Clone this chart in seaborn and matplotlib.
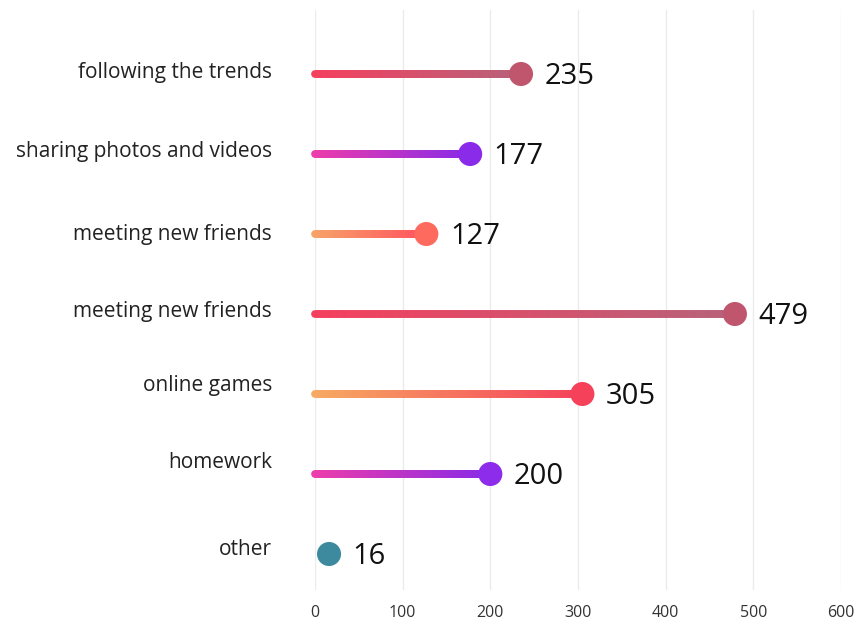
import numpy as np
import pandas as pd
import matplotlib
matplotlib.use("Agg")
import matplotlib.pyplot as plt
import matplotlib.transforms as mtransforms
from matplotlib.collections import LineCollection
from matplotlib.colors import to_rgb
import seaborn as sns

# Data
categories = ["following the trends", "sharing photos and videos", "meeting new friends",
              "meeting new friends", "online games", "homework", "other"]
values = [235, 177, 127, 479, 305, 200, 16]
x_ticks = [0, 100, 200, 300, 400, 500, 600]

# Gradient start / end colours and dot colour per row
line_start = ["#F5405E", "#EE3DAA", "#F7A468", "#F5405E", "#F7AA62", "#EE3DAA", "#3D8A9E"]
line_end = ["#B8607A", "#8A2BE6", "#FF5560", "#B8617A", "#F5425C", "#8A2BE6", "#3D8A9E"]
dot_colors = ["#C0566E", "#8B2BEA", "#FF6A5E", "#C0566E", "#F5425A", "#8D2CEA", "#3D8A9E"]

df = pd.DataFrame({"category": categories, "value": values,
                   "row": np.arange(len(categories)), "dot": dot_colors})

sns.set_style("white")
plt.rcParams["font.family"] = ["Open Sans", "DejaVu Sans"]

fig = plt.figure(figsize=(8.59, 6.23), dpi=100)
ax = fig.add_axes([315 / 859, 1 - 590 / 623, (841 - 315) / 859, 580 / 623])

# Gradient stems
n_seg = 120
for i, row in df.iterrows():
    if row["value"] < 30:
        continue
    xs = np.linspace(0, row["value"], n_seg + 1)
    pts = np.column_stack([xs, np.full_like(xs, row["row"], dtype=float)])
    segs = np.stack([pts[:-1], pts[1:]], axis=1)
    c0 = np.array(to_rgb(line_start[i]))
    c1 = np.array(to_rgb(line_end[i]))
    t = np.linspace(0, 1, n_seg)[:, None]
    cols = c0 * (1 - t) + c1 * t
    lc = LineCollection(segs, colors=cols, linewidths=5.6, capstyle="round",
                        clip_on=False, zorder=2)
    ax.add_collection(lc)

# Dots
sns.scatterplot(data=df, x="value", y="row", hue="category", palette=None, ax=ax,
                legend=False, s=300, linewidth=0, zorder=3, clip_on=False)
ax.collections[-1].set_facecolors(df["dot"].tolist())

# Value labels
for _, row in df.iterrows():
    ax.annotate(f"{row['value']}", xy=(row["value"], row["row"]), xytext=(17, -2),
                textcoords="offset points", ha="left", va="center",
                fontsize=21, color="#111111", zorder=4)

ax.set_xlim(0, 600)
ax.set_ylim(6.45, -0.8)
ax.set_xticks(x_ticks)
ax.set_xticklabels([str(v) for v in x_ticks], fontsize=11.5, color="#333333")
ax.set_yticks(df["row"])
ax.set_yticklabels(categories, fontsize=15, color="#222222")
ax.tick_params(axis="y", length=0, pad=31)
ax.tick_params(axis="x", length=0, pad=11)
label_shift = [4, 5, 2, 5, 11, 14, 7]
for lab, dy in zip(ax.get_yticklabels(), label_shift):
    lab.set_transform(lab.get_transform() +
                      mtransforms.ScaledTranslation(0, dy / 100, fig.dpi_scale_trans))

ax.grid(axis="x", color="#EBEBEB", linewidth=1)
ax.grid(axis="y", visible=False)
for s in ax.spines.values():
    s.set_visible(False)
ax.set_xlabel("")
ax.set_ylabel("")

fig.savefig("out.png", dpi=100)
